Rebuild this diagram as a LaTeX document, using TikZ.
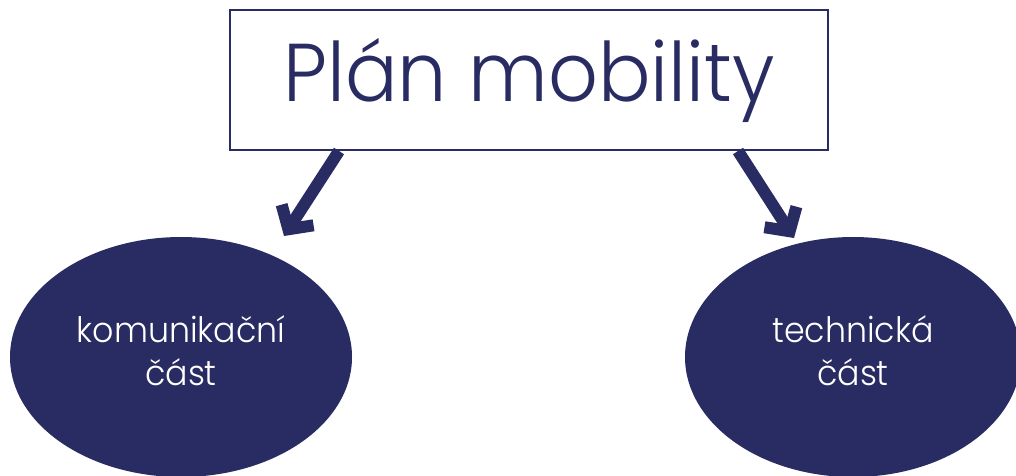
\documentclass[tikz,border=0pt]{standalone}
\usepackage{fontspec}
\setmainfont{Poppins}[UprightFont=* Light, FakeStretch=0.95]
\usepackage{tikz}
\usetikzlibrary{arrows.meta,shapes.geometric}
\definecolor{navy}{RGB}{41,44,98}

\begin{document}
\begin{tikzpicture}[x=1pt, y=-1pt,
    titlebox/.style={draw=navy, line width=2pt, minimum width=598pt, minimum height=140pt, text=navy, font=\fontsize{82}{96}\selectfont},
    partell/.style={ellipse, fill=navy, minimum width=342pt, minimum height=240pt, text=white, align=center, text depth=12pt, font=\fontsize{35}{43}\selectfont},
    arrow/.style={navy, line width=12pt, -{Straight Barb[length=17pt, width=38pt]}}]
    \useasboundingbox (0, 0) rectangle (1016, 475);
    \node [titlebox] (plan) at (529, 80) {Plán mobility};
    \node [partell] (komu) at (181, 357) {komunikační\\část};
    \node [partell, minimum width=336pt] (tech) at (853, 357) {technická\\část};
    \coordinate (komutip) at (284, 236);
    \coordinate (techtip) at (794, 238);
    \draw [arrow] ([xshift=110pt]plan.south west) -- (komutip);
    \draw [arrow] ([xshift=-91pt]plan.south east) -- (techtip);
\end{tikzpicture}
\end{document}
